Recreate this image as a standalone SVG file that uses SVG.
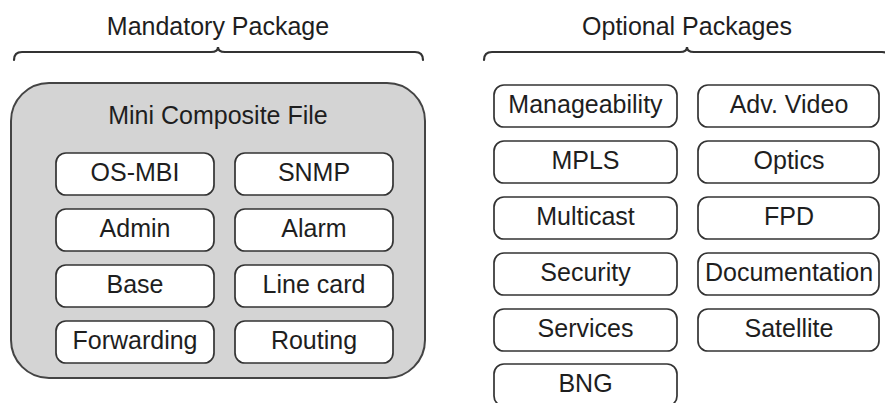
<svg xmlns="http://www.w3.org/2000/svg" width="885" height="403" viewBox="0 0 885 403">
<style>
text{font-family:"Liberation Sans",Arial,sans-serif;font-size:25px;fill:#1e1e1e;text-anchor:middle}
.box{fill:#fff;stroke:#333;stroke-width:1.7}
.brace{fill:none;stroke:#333;stroke-width:2.2;stroke-linecap:round}
</style>
<rect width="885" height="403" fill="#fff"/>
<g id="connectors">
<path class="brace" d="M14,60 Q14,52 22,52 L211,52 Q218,52 218,47 Q218,52 225,52 L415,52 Q423,52 423,60"/>
<path class="brace" d="M484,60 Q484,52 492,52 L680,52 Q687,52 687,47 Q687,52 694,52 L882,52 Q890,52 890,60"/>
</g>
<g id="title-mandatory"><text x="218" y="35">Mandatory Package</text></g>
<g id="title-optional"><text x="687" y="35">Optional Packages</text></g>
<g id="mini-composite">
<rect x="11" y="83" width="414" height="295" rx="38" fill="#d4d4d4" stroke="#444" stroke-width="2"/>
<text x="218" y="124">Mini Composite File</text>
</g>
<g id="os-mbi"><rect class="box" x="56" y="153" width="158" height="42" rx="10"/><text x="135" y="181">OS-MBI</text></g>
<g id="snmp"><rect class="box" x="235" y="153" width="158" height="42" rx="10"/><text x="314" y="181">SNMP</text></g>
<g id="admin"><rect class="box" x="56" y="209" width="158" height="42" rx="10"/><text x="135" y="237">Admin</text></g>
<g id="alarm"><rect class="box" x="235" y="209" width="158" height="42" rx="10"/><text x="314" y="237">Alarm</text></g>
<g id="base"><rect class="box" x="56" y="265" width="158" height="42" rx="10"/><text x="135" y="293">Base</text></g>
<g id="line-card"><rect class="box" x="235" y="265" width="158" height="42" rx="10"/><text x="314" y="293">Line card</text></g>
<g id="forwarding"><rect class="box" x="56" y="321" width="158" height="42" rx="10"/><text x="135" y="349">Forwarding</text></g>
<g id="routing"><rect class="box" x="235" y="321" width="158" height="42" rx="10"/><text x="314" y="349">Routing</text></g>
<g id="manageability"><rect class="box" x="494" y="85" width="183" height="42" rx="10"/><text x="585.5" y="113">Manageability</text></g>
<g id="adv-video"><rect class="box" x="698" y="85" width="181" height="42" rx="10"/><text x="789" y="113">Adv. Video</text></g>
<g id="mpls"><rect class="box" x="494" y="141" width="183" height="42" rx="10"/><text x="585.5" y="169">MPLS</text></g>
<g id="optics"><rect class="box" x="698" y="141" width="181" height="42" rx="10"/><text x="789" y="169">Optics</text></g>
<g id="multicast"><rect class="box" x="494" y="197" width="183" height="42" rx="10"/><text x="585.5" y="225">Multicast</text></g>
<g id="fpd"><rect class="box" x="698" y="197" width="181" height="42" rx="10"/><text x="789" y="225">FPD</text></g>
<g id="security"><rect class="box" x="494" y="253" width="183" height="42" rx="10"/><text x="585.5" y="281">Security</text></g>
<g id="documentation"><rect class="box" x="698" y="253" width="181" height="42" rx="10"/><text x="789" y="281">Documentation</text></g>
<g id="services"><rect class="box" x="494" y="309" width="183" height="42" rx="10"/><text x="585.5" y="337">Services</text></g>
<g id="satellite"><rect class="box" x="698" y="309" width="181" height="42" rx="10"/><text x="789" y="337">Satellite</text></g>
<g id="bng"><rect class="box" x="494" y="364" width="183" height="42" rx="10"/><text x="585.5" y="392">BNG</text></g>
</svg>
